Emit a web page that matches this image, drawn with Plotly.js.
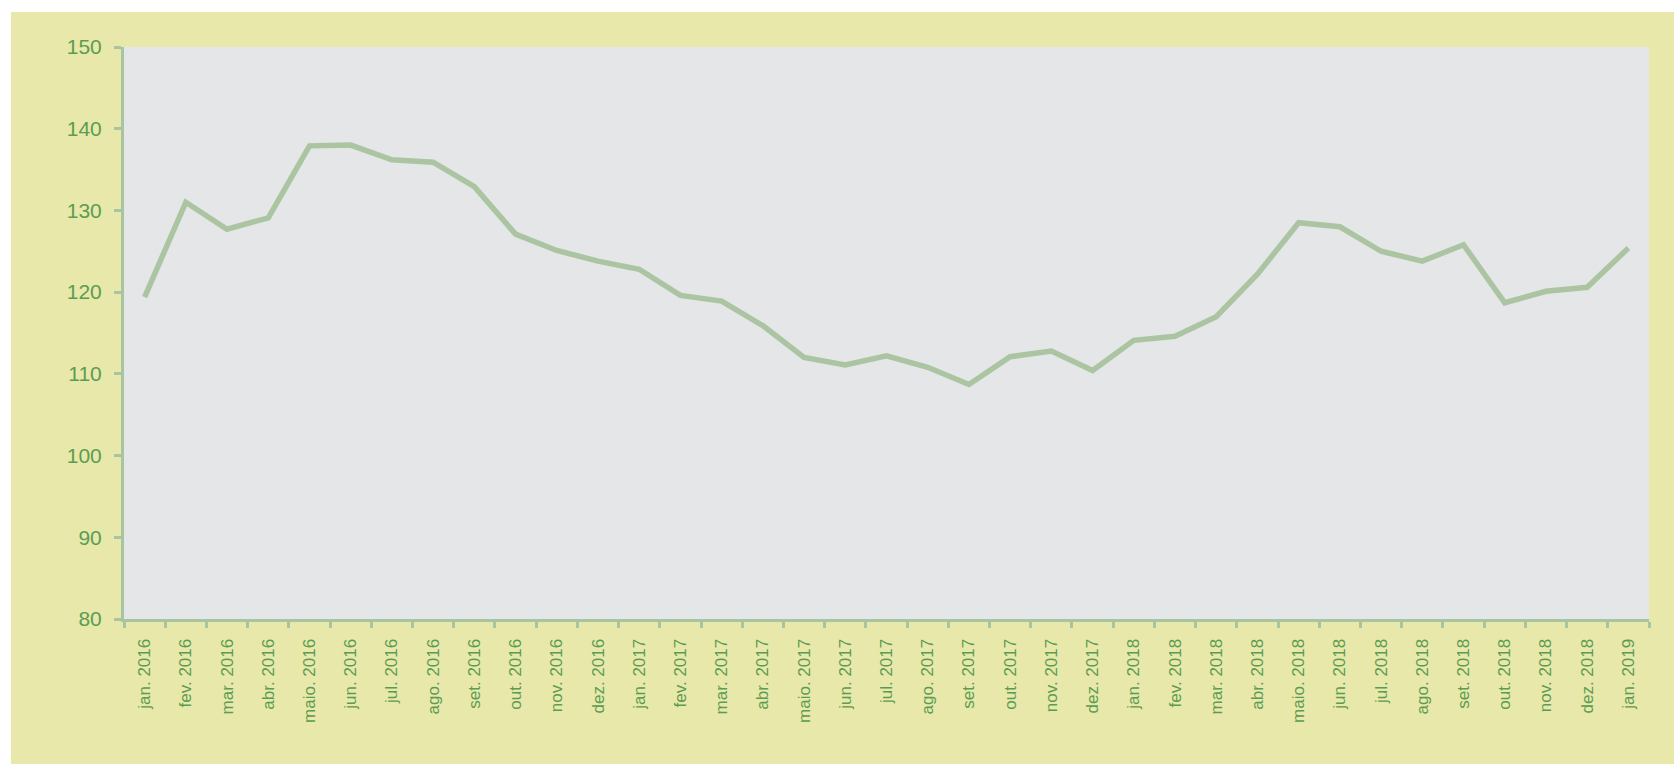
<!DOCTYPE html>
<html>
<head>
<meta charset="utf-8">
<script src="https://cdn.plot.ly/plotly-3.0.1.min.js"></script>
<style>
  html, body { margin: 0; padding: 0; background: #ffffff; }
  #chart { position: absolute; left: 11px; top: 12px; width: 1663px; height: 752px; }
</style>
</head>
<body>
<div id="chart"></div>
<script>
const months = [
  "jan. 2016","fev. 2016","mar. 2016","abr. 2016","maio. 2016","jun. 2016","jul. 2016","ago. 2016","set. 2016","out. 2016","nov. 2016","dez. 2016",
  "jan. 2017","fev. 2017","mar. 2017","abr. 2017","maio. 2017","jun. 2017","jul. 2017","ago. 2017","set. 2017","out. 2017","nov. 2017","dez. 2017",
  "jan. 2018","fev. 2018","mar. 2018","abr. 2018","maio. 2018","jun. 2018","jul. 2018","ago. 2018","set. 2018","out. 2018","nov. 2018","dez. 2018",
  "jan. 2019"
];
const values = [
  119.4, 131.0, 127.7, 129.1, 137.9, 138.0, 136.2, 135.9, 132.9, 127.1, 125.1, 123.8,
  122.8, 119.6, 118.9, 115.9, 112.0, 111.1, 112.2, 110.8, 108.7, 112.1, 112.8, 110.4,
  114.1, 114.6, 117.0, 122.2, 128.5, 128.0, 125.0, 123.8, 125.8, 118.7, 120.1, 120.6,
  125.4
];
const yTicks = [80, 90, 100, 110, 120, 130, 140, 150];

const axisColor = "#a9c4a0";
const labelColor = "#5c9c52";

const trace = {
  type: "scatter",
  mode: "lines",
  x: months,
  y: values,
  line: { color: "#abc5a2", width: 5.5 },
  hoverinfo: "x+y"
};

const layout = {
  width: 1663,
  height: 752,
  paper_bgcolor: "#e8e8ab",
  plot_bgcolor: "#e5e6e8",
  margin: { l: 113, r: 25, t: 35, b: 145 },
  showlegend: false,
  font: { family: "Liberation Sans, Arial, sans-serif", color: labelColor },
  xaxis: {
    type: "category",
    categoryorder: "array",
    categoryarray: months,
    tickmode: "array",
    tickvals: months,
    ticktext: months,
    tickangle: -90,
    tickson: "boundaries",
    ticks: "outside",
    ticklen: 6,
    tickwidth: 3,
    tickcolor: axisColor,
    showline: true,
    linecolor: axisColor,
    linewidth: 3,
    showgrid: false,
    zeroline: false,
    tickfont: { size: 17, color: labelColor },
    ticklabelstandoff: 10,
    range: [-0.5, months.length - 0.5]
  },
  yaxis: {
    range: [80, 150],
    tickmode: "array",
    tickvals: yTicks,
    ticktext: yTicks.map(String),
    ticks: "outside",
    ticklen: 7,
    tickwidth: 3,
    tickcolor: axisColor,
    showline: true,
    linecolor: axisColor,
    linewidth: 3,
    showgrid: false,
    zeroline: false,
    tickfont: { size: 21, color: labelColor },
    ticklabelstandoff: 8
  }
};

Plotly.newPlot("chart", [trace], layout, { displayModeBar: false, staticPlot: true });
</script>
</body>
</html>
